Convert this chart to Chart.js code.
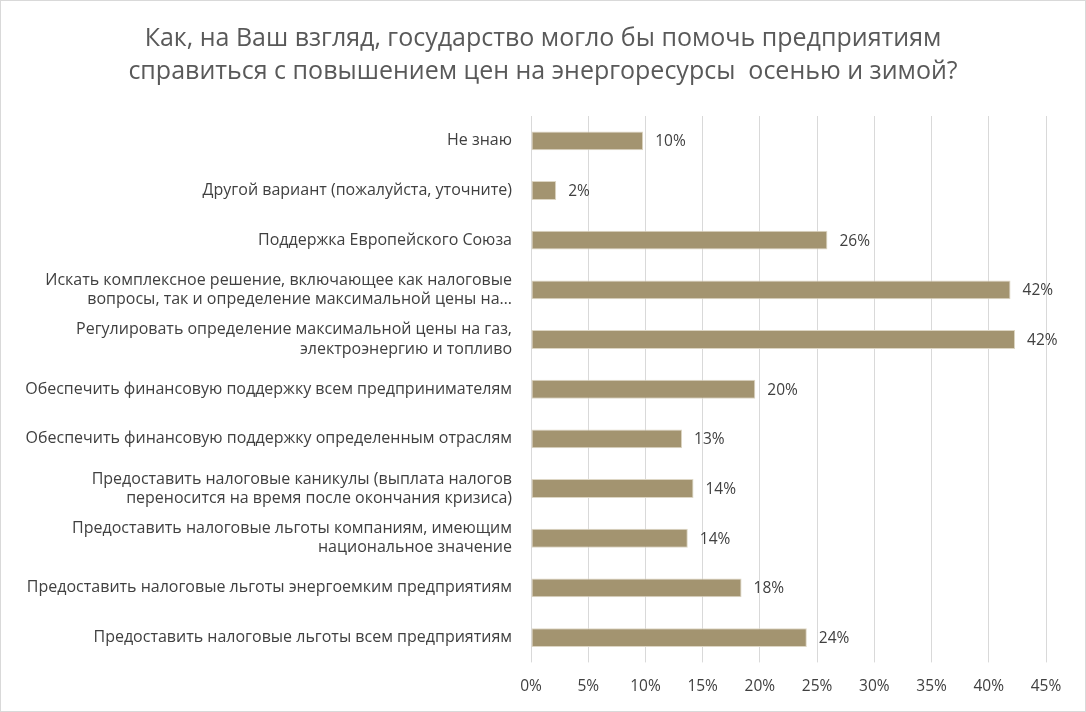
<!DOCTYPE html>
<html>
<head>
<meta charset="utf-8">
<script src="https://cdn.jsdelivr.net/npm/chart.js@4.4.0/dist/chart.umd.min.js"></script>
<style>
	body { margin: 0; background: #fff; }
	#wrap { width: 1086px; height: 712px; box-sizing: border-box; border: 1px solid #d9d9d9; }
	canvas { display: block; }
</style>
</head>
<body>
<div id="wrap"><canvas id="myChart" width="1084" height="710"></canvas></div>
<script>
const titleLines = [
	'Как, на Ваш взгляд, государство могло бы помочь предприятиям',
	'справиться с повышением цен на энергоресурсы  осенью и зимой?'
];

const categories = [
	'Не знаю',
	'Другой вариант (пожалуйста, уточните)',
	'Поддержка Европейского Союза',
	['Искать комплексное решение, включающее как налоговые', 'вопросы, так и определение максимальной цены на…'],
	['Регулировать определение максимальной цены на газ,', 'электроэнергию и топливо'],
	'Обеспечить финансовую поддержку всем предпринимателям',
	'Обеспечить финансовую поддержку определенным отраслям',
	['Предоставить налоговые каникулы (выплата налогов', 'переносится на время после окончания кризиса)'],
	['Предоставить налоговые льготы компаниям, имеющим', 'национальное значение'],
	'Предоставить налоговые льготы энергоемким предприятиям',
	'Предоставить налоговые льготы всем предприятиям'
];

// percent of respondents
const shares = [9.8, 2.2, 25.9, 41.9, 42.3, 19.6, 13.2, 14.2, 13.7, 18.4, 24.1];

const xTicks = [0, 5, 10, 15, 20, 25, 30, 35, 40, 45];

const fontName = '"Open Sans"';
const textColor = '#404040';

// value labels right of each bar
const barLabels = {
	id: 'barLabels',
	afterDatasetsDraw(chart) {
		const c = chart.ctx;
		const meta = chart.getDatasetMeta(0);
		c.save();
		c.font = '15.5px ' + fontName;
		c.fillStyle = textColor;
		c.textAlign = 'left';
		c.textBaseline = 'middle';
		meta.data.forEach((bar, i) => {
			c.fillText(Math.round(shares[i]) + '%', bar.x + 12, bar.y + 1);
		});
		c.restore();
	}
};

const ctx = document.getElementById('myChart');

new Chart(ctx, {
	type: 'bar',
	data: {
		labels: categories,
		datasets: [{
			data: shares,
			backgroundColor: '#a39470',
			borderColor: '#ddd6c4',
			borderWidth: 1,
			borderSkipped: false,
			barPercentage: 0.76,
			categoryPercentage: 0.5
		}]
	},
	options: {
		indexAxis: 'y',
		responsive: false,
		animation: false,
		layout: { padding: { left: 10, right: 10, top: 0, bottom: 0 } },
		plugins: {
			legend: { display: false },
			tooltip: { enabled: false },
			title: {
				display: true,
				text: titleLines,
				color: '#595959',
				font: { family: fontName, size: 25, weight: 'normal', lineHeight: 1.3 },
				padding: { top: 22, bottom: 28 }
			}
		},
		scales: {
			x: {
				min: 0,
				max: 45,
				afterBuildTicks(axis) {
					axis.ticks = xTicks.map(v => ({ value: v }));
				},
				grid: { color: '#d9d9d9', drawTicks: true, tickLength: 0 },
				border: { display: false },
				ticks: {
					color: textColor,
					font: { family: fontName, size: 15.5 },
					padding: 15,
					callback: v => v + '%'
				}
			},
			y: {
				grid: { display: false },
				border: { display: false },
				afterFit(axis) { axis.width = 520; },
				ticks: {
					color: textColor,
					font: { family: fontName, size: 16 },
					padding: 11,
					autoSkip: false
				}
			},
			// empty right axis: keeps room for the value labels
			yRight: {
				type: 'category',
				position: 'right',
				grid: { display: false },
				border: { display: false },
				ticks: { display: false },
				afterFit(axis) { axis.width = 29; }
			}
		}
	},
	plugins: [barLabels]
});
</script>
</body>
</html>
